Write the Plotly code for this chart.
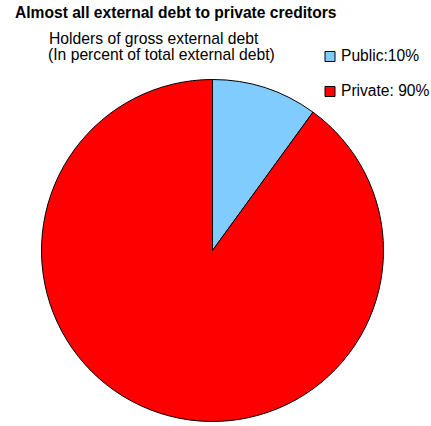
import plotly.graph_objects as go

# Holders of gross external debt, percent of total
labels = ["Public", "Private"]
shares = [10, 90]
legend_text = ["Public:10%", "Private: 90%"]
colors = ["#80CCFF", "#FF0000"]

W, H = 431, 426
FONT = "Liberation Sans, Arial, sans-serif"

# pie placement in pixels (center and radius)
cx, cy, r = 212.5, 250.5, 171.0

fig = go.Figure(
    go.Pie(
        labels=labels,
        values=shares,
        sort=False,
        direction="clockwise",
        rotation=0,
        marker=dict(colors=colors, line=dict(color="#000000", width=1)),
        textinfo="none",
        hoverinfo="label+percent",
        showlegend=False,
        domain=dict(
            x=[(cx - r) / W, (cx + r) / W],
            y=[(H - cy - r) / H, (H - cy + r) / H],
        ),
    )
)

annotations = [
    dict(text="<b>Almost all external debt to private creditors</b>",
         x=13 / W, y=1 - 13 / H, xanchor="left", yanchor="middle",
         font=dict(size=15.6, color="#000000")),
    dict(text="Holders of gross external debt",
         x=46.5 / W, y=1 - 38.5 / H, xanchor="left", yanchor="middle",
         font=dict(size=15.7, color="#000000")),
    dict(text="(In percent of total external debt)",
         x=46 / W, y=1 - 54.5 / H, xanchor="left", yanchor="middle",
         font=dict(size=15.7, color="#000000")),
]

# legend: swatch + text per category
shapes = []
legend_rows = [56.5, 91.5]
for txt, col, ly in zip(legend_text, colors, legend_rows):
    shapes.append(dict(type="rect", xref="paper", yref="paper",
                       x0=325 / W, x1=335 / W,
                       y0=1 - (ly + 5) / H, y1=1 - (ly - 5) / H,
                       fillcolor=col, line=dict(color="#000000", width=1)))
    annotations.append(dict(text=txt, x=338.5 / W, y=1 - (ly - 1) / H,
                            xanchor="left", yanchor="middle",
                            font=dict(size=15.6, color="#000000")))

for a in annotations:
    a.update(xref="paper", yref="paper", showarrow=False)

fig.update_layout(
    width=W, height=H,
    margin=dict(l=0, r=0, t=0, b=0),
    paper_bgcolor="#FFFFFF",
    plot_bgcolor="#FFFFFF",
    font=dict(family=FONT, color="#000000"),
    annotations=annotations,
    shapes=shapes,
    showlegend=False,
)

fig.write_html("out.html")
